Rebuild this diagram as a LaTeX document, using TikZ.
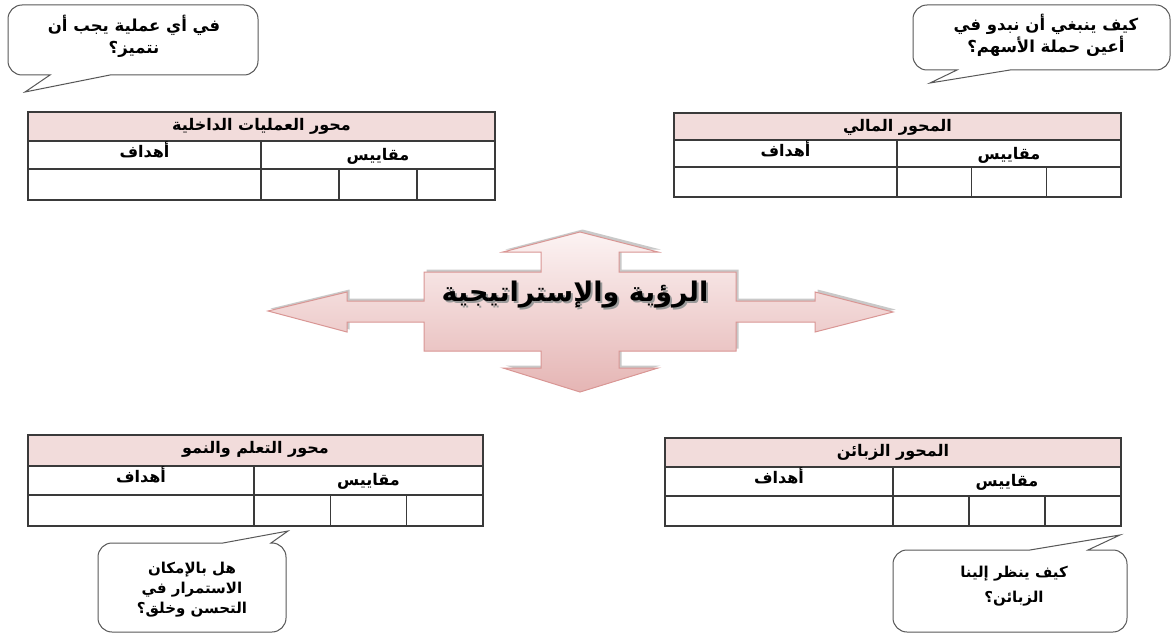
\documentclass[tikz,border=0pt]{standalone}
\usepackage{fontspec}
\newfontfamily\ar[Script=Arabic]{DejaVu Sans}
\TeXXeTstate=1
\definecolor{hdr}{HTML}{F2DCDB}
\definecolor{lin}{HTML}{3A3A3A}
\definecolor{arrline}{HTML}{D99694}
\definecolor{arrtop}{HTML}{FCF3F3}
\definecolor{arrbot}{HTML}{E5B5B4}
\tikzset{
  tbl/.style={draw=lin, line width=1.2pt},
  tt/.style={font=\ar\bfseries\fontsize{16}{18}\selectfont, inner sep=0pt, anchor=base},
  bt/.style={font=\ar\bfseries\fontsize{16.5}{22}\selectfont, inner sep=0pt, align=center},
  bubble/.style={draw=lin!85, fill=white, line width=1pt},
}
% #1 name #2 x1 #3 x2 #4 y1 #5 y2 #6 y3 #7 y4 #8 xv #9 title
\newcommand\bsctab[9]{%
  \fill[hdr] (#2,#4) rectangle (#3,#5);
  \draw[tbl] (#2,#5) -- (#3,#5) (#2,#6) -- (#3,#6) (#8,#5) -- (#8,#7)
    ({#8+(#3-#8)/3},#6) -- ({#8+(#3-#8)/3},#7)
    ({#8+2*(#3-#8)/3},#6) -- ({#8+2*(#3-#8)/3},#7);
  \draw[tbl] (#2,#4) rectangle (#3,#7);
  \node[tt] (#1-t) at ({(#2+#3)/2},{#4+18}) {#9};
  \node[tt] (#1-m) at ({(#8+#3)/2},{#5+19}) {\beginR مقاييس\endR};
  \node[tt] (#1-h) at ({(#2+#8)/2},{#5+16.5}) {\beginR أهداف\endR};
}
% bubble with tail on bottom edge: #1 x1 #2 y1 #3 x2 #4 y2 #5 base-left #6 base-right #7 tip
\newcommand\bubbleB[7]{%
  \draw[bubble] ({#1+14},#2) -- ({#3-14},#2) .. controls ({#3-6.3},#2) and (#3,{#2+6.3}) .. (#3,{#2+14})
   -- (#3,{#4-14}) .. controls (#3,{#4-6.3}) and ({#3-6.3},#4) .. ({#3-14},#4)
   -- (#6,#4) -- #7 -- (#5,#4) -- ({#1+14},#4) .. controls ({#1+6.3},#4) and (#1,{#4-6.3}) .. (#1,{#4-14})
   -- (#1,{#2+14}) .. controls (#1,{#2+6.3}) and ({#1+6.3},#2) .. ({#1+14},#2) -- cycle;}
% bubble with tail on top edge
\newcommand\bubbleT[7]{%
  \draw[bubble] ({#1+14},#2) -- (#5,#2) -- #7 -- (#6,#2) -- ({#3-14},#2) .. controls ({#3-6.3},#2) and (#3,{#2+6.3}) .. (#3,{#2+14})
   -- (#3,{#4-14}) .. controls (#3,{#4-6.3}) and ({#3-6.3},#4) .. ({#3-14},#4)
   -- ({#1+14},#4) .. controls ({#1+6.3},#4) and (#1,{#4-6.3}) .. (#1,{#4-14})
   -- (#1,{#2+14}) .. controls (#1,{#2+6.3}) and ({#1+6.3},#2) .. ({#1+14},#2) -- cycle;}
\begin{document}
\begin{tikzpicture}[x=1pt,y=-1pt]
\useasboundingbox (0,0) rectangle (1176,634);
\fill[white] (0,0) rectangle (1176,634);

% bubbles
\bubbleB{8}{5}{258}{75}{50}{110}{(25,92)}
\node[bt] (q1) at (134,36) {\beginR في أي عملية يجب أن\endR\\\beginR نتميز؟\endR};
\bubbleB{913}{5}{1170}{70}{957}{1010}{(930,83)}
\node[bt] (q2) at (1046,35) {\beginR كيف ينبغي أن نبدو في\endR\\\beginR أعين حملة الأسهم؟\endR};
\bubbleT{98}{543}{286}{632}{223}{271}{(288,531)}
\node[bt, font=\ar\bfseries\fontsize{15}{20}\selectfont] (q3) at (192,590) {\beginR هل بالإمكان\endR\\\beginR الاستمرار في\endR\\\beginR التحسن وخلق؟\endR};
\bubbleT{893}{550}{1127}{632}{1030}{1088}{(1120,535)}
\node[bt, font=\ar\bfseries\fontsize{15}{25}\selectfont] (q4) at (1014,586) {\beginR كيف ينظر إلينا\endR\\\beginR الزبائن؟\endR};

% tables
\bsctab{t1}{28}{495}{112}{141}{169}{200}{261}{\beginR محور العمليات الداخلية\endR}
\bsctab{t2}{674}{1121}{113}{140}{167}{197}{897}{\beginR المحور المالي\endR}
\bsctab{t3}{28}{483}{435}{466}{495}{526}{254}{\beginR محور التعلم والنمو\endR}
\bsctab{t4}{665}{1121}{438}{467}{496}{526}{893}{\beginR المحور الزبائن\endR}

% central four-way arrow
\def\arrowpath{(580,232) -- (658,252) -- (619,252) -- (619,272) -- (736,272) -- (736,301) -- (815,301) -- (815,292) -- (893,312) -- (815,332) -- (815,322) -- (736,322) -- (736,351) -- (619,351) -- (619,368) -- (658,368) -- (580,392) -- (503,368) -- (541,368) -- (541,351) -- (424,351) -- (424,322) -- (347,322) -- (347,332) -- (268,311) -- (347,292) -- (347,301) -- (424,301) -- (424,272) -- (541,272) -- (541,252) -- (503,252) -- cycle}
\begin{scope}[shift={(2.5,-2.5)}]
\fill[black!35, opacity=0.6] \arrowpath;
\end{scope}
\shade[top color=arrtop, bottom color=arrbot, draw=arrline, line width=1pt] \arrowpath;
\node[font=\ar\bfseries\fontsize{27}{30}\selectfont, text=black!40, inner sep=0pt] (vshadow) at (577,297) {\beginR الرؤية والإستراتيجية\endR};
\node[font=\ar\bfseries\fontsize{27}{30}\selectfont, inner sep=0pt] (vision) at (575,295) {\beginR الرؤية والإستراتيجية\endR};
\end{tikzpicture}
\end{document}
